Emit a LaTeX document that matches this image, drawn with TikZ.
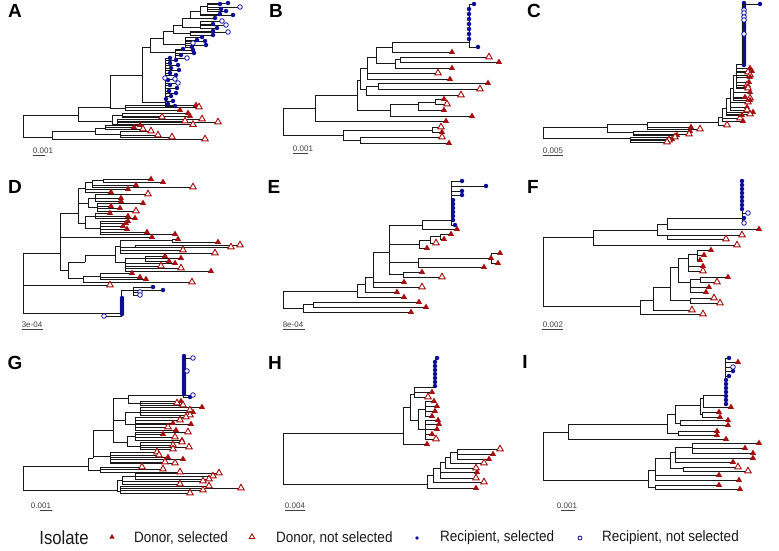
\documentclass[tikz,border=0pt]{standalone}
\usepackage{fontspec}
\setmainfont{Liberation Sans}
\usepackage{tikz}
\usetikzlibrary{positioning,shapes.geometric}
\definecolor{donorred}{RGB}{165,15,15}
\definecolor{recipblue}{RGB}{15,15,150}

% tips: parent x/y, tip x/y, marker style
\newcommand{\tips}[2]{%
  \foreach \px/\py/\cx/\cy/\s in {#1} \draw[branch] (\px,\py) |- (\cx,\cy);%
  \foreach \px/\py/\cx/\cy/\s [count=\i] in {#1} \node[\s] (#2\i) at (\cx,\cy) {};%
}
\newcommand{\phylo}[3]{%
  \foreach \px/\py/\cx/\cy in {#1} \draw[branch] (\px,\py) |- (\cx,\cy);%
  \tips{#2}{#3}%
}
% column of recipient isolates
\newcommand{\tipcol}[5]{%
  \foreach \yy [count=\k] in {#4} {\draw[branch] (#1,#2) |- (#3,\yy); \node[rsel] (#5\k) at (#3,\yy) {};}%
}

\begin{document}
\begin{tikzpicture}[x=1pt, y=-1pt]
	\tikzstyle{branch} = [draw=black!90, line width=0.55pt];
	\tikzstyle{dsel} = [regular polygon, regular polygon sides=3, fill=donorred, inner sep=0pt, minimum size=7pt];
	\tikzstyle{dnot} = [regular polygon, regular polygon sides=3, draw=donorred, fill=white, line width=0.9pt, inner sep=0pt, minimum size=7.5pt];
	\tikzstyle{rsel} = [circle, fill=recipblue, inner sep=0pt, minimum size=4.5pt];
	\tikzstyle{rnot} = [circle, draw=recipblue, fill=white, line width=0.8pt, inner sep=0pt, minimum size=4.6pt];
	\tikzstyle{panel} = [font=\fontsize{19}{19}\selectfont\bfseries, inner sep=0pt];
	\tikzstyle{scaletext} = [font=\fontsize{8}{8}\selectfont, text=black!75, inner sep=0pt];
	\tikzstyle{scalebar} = [draw=black!75, line width=0.6pt];
	\tikzstyle{legtext} = [font=\fontsize{15}{16}\selectfont, text=black!90, inner sep=0pt];
	
	\useasboundingbox (0,0) rectangle (779,550);
	
	% panel A
	\node[panel](A) at (15,11){A};
	\phylo{23/126/78/115, 23/126/52/137, 78/115/110/107, 78/115/112/121,
		110/107/142/75, 110/107/125/108, 142/75/150/47, 142/75/165/102,
		150/47/163/38, 150/47/175/52, 163/38/173/31, 163/38/185/44,
		173/31/182/25, 173/31/190/33, 182/25/190/18, 182/25/200/27,
		190/18/200/11, 200/11/207/6, 112/121/122/115, 112/121/117/124,
		52/137/95/131, 95/131/105/128, 95/131/120/134}
	{190/18/215/18/rsel, 200/11/220/14/rsel, 200/11/233/15/rsel,
		207/6/220/4/rsel, 207/6/228/3/rsel, 207/6/240/7/rnot, 207/6/221/9/rsel, 207/6/226/11/rsel,
		200/27/222/21/rnot, 200/27/213/24/rsel, 200/27/226/25/rnot, 200/27/217/28/rsel,
		190/33/213/31/rsel, 190/33/228/32/rnot, 190/33/213/35/rsel,
		185/44/202/37/rsel, 185/44/197/40/rsel, 185/44/205/41/rsel, 185/44/193/43/rnot, 185/44/206/45/rsel, 185/44/192/47/rsel,
		175/52/183/49/rsel, 175/52/193/50/rsel, 175/52/194/53/rsel, 175/52/181/55/rsel, 175/52/187/58/rnot,
		165/102/170/58/rsel, 165/102/176/60/rsel, 165/102/170/63/rsel, 165/102/178/65/rsel, 165/102/171/68/rsel,
		165/102/179/70/rsel, 165/102/170/73/rsel, 165/102/176/75/rsel, 165/102/168/80/rsel, 165/102/170/85/rsel,
		165/102/177/88/rsel, 165/102/169/91/rsel, 165/102/176/93/rsel, 165/102/171/96/rsel, 165/102/166/99/rsel,
		165/102/173/101/rsel, 165/102/168/104/rsel, 165/102/175/106/rsel,
		165/102/165/78/rnot, 165/102/175/79/rnot, 165/102/178/83/rnot,
		125/108/196/105/dsel, 125/108/199/107/dnot, 125/108/180/110/dsel,
		122/115/188/113/dsel, 122/115/190/116/dsel, 122/115/162/117/dnot,
		117/124/202/119/dnot, 117/124/185/121/dnot, 117/124/218/122/dnot, 117/124/193/124.5/dnot,
		52/137/205/139/dnot,
		105/128/134/127/dsel, 105/128/140/125/dsel, 105/128/143/129/dnot,
		120/134/151/131/dnot, 120/134/158/135/dnot, 120/134/172/137/dnot}{a}
	\node[scaletext](sA) at (43,151){0.001};
	\draw[scalebar] (33,155) -- (45,155);
	
	% panel B
	\node[panel](B) at (276,11){B};
	\phylo{283/121/315/108, 283/121/343/135, 315/108/357/95, 357/95/360/80, 357/95/390/110,
		360/80/367/68, 360/80/366/89, 367/68/376/57, 376/57/392/47, 376/57/395/63,
		392/47/469/42, 395/63/400/59, 366/89/378/86, 390/110/418/104, 418/104/435/102,
		343/135/432/130, 343/135/360/140}
	{315/108/446/121/dsel, 367/68/438/73/dnot, 367/68/450/79/dsel, 392/47/452/52/dsel,
		400/59/489/57/dnot, 400/59/499/62/dsel, 395/63/452/68/dsel,
		378/86/488/83/dsel, 378/86/480/89/dnot, 366/89/461/95/dnot,
		435/102/444/99/dsel, 435/102/447/104/dnot, 418/104/444/110/dsel, 390/110/472/116/dsel,
		432/130/441/127/dnot, 432/130/442/132/dsel, 360/140/442/137/dnot, 360/140/449/143/dsel,
		469/42/474/4/rsel, 469/42/478/47/rsel}{b}
	\tipcol{469}{42}{469}{9,14,...,39}{br}
	\node[scaletext](sB) at (303,149){0.001};
	\draw[scalebar] (293,153) -- (308,153);
	
	% panel C
	\node[panel](C) at (534,11){C};
	\phylo{543/132/607/127, 543/132/630/138, 607/127/647/124, 607/127/633/132,
		647/124/718/122, 718/122/722/117, 722/117/726/108, 726/108/730/98,
		730/98/733/88, 733/88/736/75, 736/75/742/64}
	{647/124/691/127/dsel, 647/124/700/129/dnot,
		633/132/690/131/dsel, 633/132/689/134/dnot, 633/132/677/135/dsel,
		630/138/675/137/dnot, 630/138/672/139/dsel, 630/138/669/140/dnot, 630/138/667/142/dnot,
		718/122/727/125/dnot, 722/117/740/118/dnot, 722/117/743/121/dsel,
		726/108/753/112/dsel, 726/108/750/114/dnot, 726/108/742/115/dsel,
		730/98/748/102/dnot, 730/98/747/107/dsel, 730/98/747/110/dnot,
		733/88/750/92/dsel, 733/88/745/97/dsel, 733/88/750/98/dnot, 733/88/750/100/dsel,
		736/75/750/68/dsel, 736/75/752/71/dsel, 736/75/748/72/dnot, 736/75/750/75/dnot, 736/75/750/77/dsel,
		736/75/749/82/dsel, 736/75/747/85/dnot, 736/75/747/87/dsel, 736/75/748/88/dnot}{c}
	\tipcol{742}{64}{744}{3,5,...,65}{cr}
	\tips{742/64/760/4/rsel, 742/64/744/10/rnot, 742/64/744/13/rnot, 742/64/744/17/rnot,
		742/64/744/20/rnot, 742/64/744/34/rnot}{co}
	\node[scaletext](sC) at (553,151){0.005};
	\draw[scalebar] (543,155) -- (563,155);
	
	% panel D
	\node[panel](D) at (15,187){D};
	\phylo{23/283/60/253, 23/283/121/313, 60/253/78/213, 60/253/68/270,
		78/213/85/188, 78/213/88/203, 78/213/85/223, 85/188/92/182, 92/182/103/180,
		88/203/95/198, 88/203/97/207, 85/223/95/216, 85/223/100/228,
		68/270/85/262, 68/270/83/278, 85/262/115/255, 115/255/120/246, 115/255/125/262,
		120/246/172/240, 120/246/135/247, 125/262/145/258, 83/278/100/276, 121/313/133/290}
	{23/283/110/285/dnot, 60/253/152/237/dsel,
		85/188/128/189/dsel, 85/188/111/192/dsel, 92/182/136/185/dsel, 92/182/193/187/dnot,
		103/180/151/179/dsel, 103/180/163/182/dsel,
		95/198/148/194/dnot, 95/198/121/198/dsel, 95/198/121/201/dsel,
		97/207/143/203/dsel, 97/207/111/206/dsel, 97/207/120/208/dsel, 97/207/136/211/dnot,
		95/216/110/213/dsel, 95/216/128/216/dsel, 95/216/135/218/dsel,
		100/228/128/221/dsel, 100/228/126/223/dsel, 100/228/123/226/dsel, 100/228/127/229/dsel,
		100/228/147/232/dsel, 100/228/175/234/dsel,
		172/240/178/239/dsel, 172/240/218/242/dsel, 135/247/240/245/dnot, 135/247/231/247/dnot,
		120/246/183/250/dnot, 120/246/215/253/dnot,
		145/258/165/256/dsel, 145/258/181/258/dsel, 145/258/169/261/dsel,
		125/262/175/263/dsel, 125/262/161/266/dnot, 125/262/181/268/dnot, 125/262/211/271/dsel,
		100/276/132/273/dsel, 100/276/140/277/dsel, 100/276/146/279/dsel, 83/278/192/282/dnot,
		133/290/153/287/rsel, 133/290/163/290/rsel, 133/290/140/292/rnot, 133/290/140/295/rnot,
		121/313/104/316/rnot}{d}
	\tipcol{121}{313}{122}{298,300,...,314}{dr}
	\node[scaletext](sD) at (32,325){3e-04};
	\draw[scalebar] (22,329) -- (43,329);
	
	% panel E
	\node[panel](E) at (274,187){E};
	\phylo{283/300/357/291, 283/300/303/308, 357/291/365/284, 365/284/373/277, 373/277/389/252,
		389/252/422/225, 389/252/419/244, 389/252/418/262, 389/252/403/274,
		422/225/451/220, 419/244/430/240, 430/240/440/236, 418/262/491/258, 303/308/313/304}
	{357/291/404/297/dsel, 365/284/397/292/dsel, 373/277/404/282/dsel, 373/277/422/287/dnot,
		422/225/457/229/dsel, 419/244/427/248/dsel, 430/240/436/243/dnot,
		440/236/451/234/dsel, 440/236/444/239/dsel,
		491/258/500/253/dsel, 491/258/491/258/dsel, 491/258/498/263/dsel, 418/262/484/267/dsel,
		403/274/422/272/dsel, 403/274/442/277/dnot,
		303/308/411/312/dsel, 313/304/419/302/dsel, 313/304/426/307/dsel,
		451/220/462/181/rsel, 451/220/486/186/rsel, 451/220/462/191/rsel, 451/220/462/195/rsel,
		451/220/455/225/rsel}{e}
	\tipcol{451}{220}{453}{200,204,...,220}{er}
	\node[scaletext](sE) at (293,325){8e-04};
	\draw[scalebar] (283,329) -- (305,329);
	
	% panel F
	\node[panel](F) at (533,187){F};
	\phylo{543/271/593/237, 543/271/640/306, 593/237/657/230, 657/230/667/224, 657/230/667/235,
		667/224/742/218, 640/306/653/300, 653/300/670/287, 670/287/678/267, 670/287/690/300,
		678/267/688/258, 678/267/690/282, 688/258/697/254, 690/282/700/279}
	{593/237/737/245/dnot, 667/224/759/229/dsel, 667/235/742/235/dnot, 667/235/726/239/dnot,
		640/306/703/314/dnot, 653/300/692/310/dnot, 690/300/714/298/dnot, 690/300/720/303/dnot,
		697/254/711/250/dsel, 697/254/704/255/dsel, 697/254/700/260/dsel,
		688/258/703/266/dsel, 688/258/703/271/dnot, 700/279/728/277/dsel, 700/279/717/282/dnot,
		690/282/709/287/dsel, 690/282/706/292/dsel}{f}
	\tipcol{742}{218}{742}{181,185,...,209}{fr}
	\tips{742/218/748/213/rnot, 742/218/744/218/rsel, 742/218/744/223/rnot}{fo}
	\node[scaletext](sF) at (553,325){0.002};
	\draw[scalebar] (542,329) -- (563,329);
	
	% panel G
	\node[panel](G) at (15,363){G};
	\phylo{23/478/88/466, 23/478/117/490, 88/466/93/458, 88/466/100/470,
		93/458/113/430, 93/458/110/456, 113/430/128/398, 113/430/125/420, 113/430/127/442,
		128/398/183/395, 128/398/140/403, 125/420/140/412, 125/420/135/424,
		127/442/135/436, 127/442/140/446, 117/490/122/480, 117/490/120/491, 122/480/135/476}
	{100/470/142/467/dnot, 100/470/163/469/dnot, 100/470/180/472/dnot,
		110/456/157/452/dnot, 110/456/159/455/dnot, 110/456/168/457/dsel, 110/456/183/459/dsel,
		110/456/165/462/dnot, 110/456/175/463/dnot,
		140/403/177/403/dnot, 140/403/181/401/dsel, 140/403/183/405/dnot,
		140/412/202/407/dsel, 140/412/190/410/dnot, 140/412/193/412/dsel, 140/412/190/415/dnot,
		135/424/186/417/dnot, 135/424/180/420/dnot, 135/424/173/423/dsel, 135/424/191/424/dsel,
		135/424/168/427/dnot, 135/424/176/430/dsel,
		135/436/188/432/dnot, 135/436/163/434/dsel, 135/436/175/437/dnot, 135/436/182/440/dsel,
		140/446/182/442/dnot, 140/446/173/445/dnot, 140/446/189/447/dnot, 140/446/173/449/dnot,
		135/476/219/473/dnot, 135/476/213/476/dnot, 135/476/209/479/dnot,
		122/480/203/481/dnot, 122/480/180/484/dnot,
		120/491/209/486/dnot, 120/491/241/488/dnot, 120/491/203/490/dnot, 120/491/190/493/dnot}{g}
	\tipcol{183}{395}{184}{356,358,...,394}{gr}
	\tips{183/395/193/358/rnot, 183/395/187/371/rnot, 183/395/190/397/rsel, 183/395/193/395/rnot}{go}
	\node[scaletext](sG) at (41,506){0.001};
	\draw[scalebar] (40,510) -- (52,510);
	
	% panel H
	\node[panel](H) at (275,363){H};
	\phylo{283/458/403/433, 283/458/427/484, 403/433/410/407, 410/407/414/394, 410/407/418/420,
		414/394/435/387, 418/420/425/409, 418/420/425/429, 427/484/433/475, 433/475/440/468,
		440/468/445/462, 445/462/450/457, 450/457/457/452}
	{403/433/427/444/dsel, 414/394/432/392/dsel, 414/394/428/397/dnot,
		425/409/434/401/dsel, 425/409/437/406/dsel, 425/409/435/411/dsel, 425/409/432/416/dsel,
		425/429/438/420/dsel, 425/429/439/424/dsel, 425/429/437/429/dsel, 425/429/432/434/dsel,
		425/429/436/439/dnot,
		427/484/476/488/dsel, 433/475/484/482/dnot, 440/468/477/472/dsel, 440/468/476/478/dnot,
		445/462/476/468/dnot, 450/457/484/463/dnot,
		457/452/500/449/dnot, 457/452/493/454/dsel, 457/452/489/459/dsel,
		435/387/437/358/rsel}{h}
	\tipcol{435}{387}{435}{362,366,...,386}{hr}
	\node[scaletext](sH) at (295,506){0.004};
	\draw[scalebar] (285,510) -- (305,510);
	
	% panel I
	\node[panel](I) at (525,362){I};
	\phylo{543/456/568/432, 543/456/648/480, 568/432/667/424, 667/424/675/414, 667/424/678/433,
		675/414/700/405, 675/414/680/423, 700/405/703/398, 700/405/702/414, 703/398/725/395,
		648/480/655/470, 648/480/655/487, 655/470/670/458, 670/458/675/452, 670/458/683/468,
		675/452/692/447}
	{568/432/726/439/dsel, 680/423/728/420/dsel, 680/423/728/425/dsel, 703/398/731/407/dsel,
		702/414/719/412/dsel, 702/414/720/417/dsel, 678/433/717/431/dsel, 678/433/717/435/dsel,
		655/470/719/475/dsel, 655/470/739/480/dsel, 675/452/753/458/dsel, 675/452/733/462/dsel,
		692/447/759/443/dsel, 692/447/745/448/dsel, 692/447/753/453/dsel,
		683/468/738/467/dnot, 683/468/748/471/dnot, 655/487/719/485/dsel, 655/487/740/489/dsel,
		725/395/729/358/rsel, 725/395/738/362/dsel, 725/395/733/367/rnot, 725/395/733/371/rsel,
		725/395/729/376/rsel}{i}
	\tipcol{725}{395}{726}{380,384,...,404}{ir}
	\node[scaletext](sI) at (567,506){0.001};
	\draw[scalebar] (561,510) -- (575,510);
	
	% legend
	\node[font=\fontsize{19}{20}\selectfont, text=black!90, inner sep=0pt](isolate) at (64,538){\scalebox{0.88}[1]{Isolate}};
	\node[dsel, minimum size=6pt](leg1) at (112,537){};
	\node[legtext, anchor=west](legt1) at (134,538){\scalebox{0.9}[1]{Donor, selected}};
	\node[dnot, minimum size=6.5pt](leg2) at (252,537){};
	\node[legtext, anchor=west](legt2) at (276,538){\scalebox{0.9}[1]{Donor, not selected}};
	\node[rsel, minimum size=3.8pt](leg3) at (417,538){};
	\node[legtext, anchor=west](legt3) at (440,538){\scalebox{0.9}[1]{Recipient, selected}};
	\node[rnot, minimum size=4pt](leg4) at (580,538){};
	\node[legtext, anchor=west](legt4) at (602,538){\scalebox{0.9}[1]{Recipient, not selected}};
\end{tikzpicture}
\end{document}
